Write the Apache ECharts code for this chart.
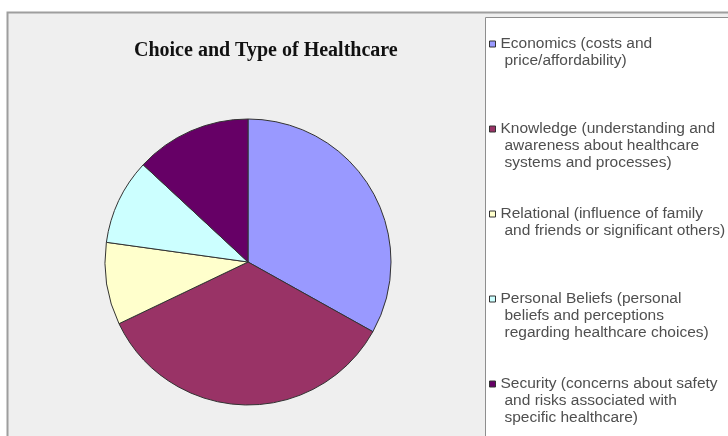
<!DOCTYPE html>
<html>
<head>
<meta charset="utf-8">
<script src="https://cdn.jsdelivr.net/npm/echarts@6/dist/echarts.min.js"></script>
<style>
  html, body { margin: 0; padding: 0; background: #ffffff; }
  #chart { width: 728px; height: 436px; }
</style>
</head>
<body>
<div id="chart"></div>
<script>
// Category labels, wrapped the way the legend prints them
const legendLines = [
  ['Economics (costs and', 'price/affordability)'],
  ['Knowledge (understanding and', 'awareness about healthcare', 'systems and processes)'],
  ['Relational (influence of family', 'and friends or significant others)'],
  ['Personal Beliefs (personal', 'beliefs and perceptions', 'regarding healthcare choices)'],
  ['Security (concerns about safety', 'and risks associated with', 'specific healthcare)']
];
const categories = legendLines.map(lines => lines.join(' '));

// Share of responses per category (percent)
const shares = [33.1, 34.8, 9.3, 9.7, 13.1];

const sliceColors = ['#9999FF', '#993366', '#FFFFCC', '#CCFFFF', '#660066'];
const titleText = 'Choice and Type of Healthcare';

const LINE_H = 17;
const FONT = '"Liberation Sans", Arial, sans-serif';
const TEXT_COLOR = '#4f4f4f';

// One legend block per category so each entry sits at its own fixed slot;
// the top padding keeps the marker level with the first text line.
const legends = categories.map((name, i) => {
  const lines = legendLines[i];
  const extra = (lines.length - 1) * LINE_H;
  return {
    data: [name],
    orient: 'vertical',
    left: 489,
    top: 42.5 + i * 85 - 7 - extra,
    padding: 0,
    icon: 'rect',
    itemWidth: 6,
    itemHeight: 6,
    itemStyle: { borderColor: '#333333', borderWidth: 1 },
    selectedMode: false,
    formatter: () => lines[0] + '\n' + lines.slice(1).map(s => '{c|' + s + '}').join('\n'),
    textStyle: {
      color: TEXT_COLOR,
      fontFamily: FONT,
      fontSize: 15.5,
      lineHeight: LINE_H,
      padding: [extra, 0, 0, 0],
      rich: {
        c: {
          color: TEXT_COLOR,
          fontFamily: FONT,
          fontSize: 15.5,
          lineHeight: LINE_H,
          padding: [0, 0, 0, 4]
        }
      }
    }
  };
});

const chart = echarts.init(document.getElementById('chart'), null, { renderer: 'canvas' });

chart.setOption({
  animation: false,
  backgroundColor: '#ffffff',
  title: {
    text: titleText,
    left: 134,
    top: 41,
    padding: 0,
    textStyle: {
      fontFamily: '"Liberation Serif", "Times New Roman", serif',
      fontWeight: 'bold',
      fontSize: 20,
      color: '#111111'
    }
  },
  graphic: [
    {
      type: 'rect',
      silent: true,
      z: 0,
      shape: { x: 7.5, y: 12.5, width: 740, height: 440 },
      style: { fill: '#EFEFEF', stroke: '#9E9E9E', lineWidth: 2 }
    },
    {
      type: 'rect',
      silent: true,
      z: 1,
      shape: { x: 485.5, y: 17.5, width: 260, height: 440 },
      style: { fill: '#FFFFFF', stroke: '#8E8E8E', lineWidth: 1 }
    }
  ],
  legend: legends,
  series: [
    {
      type: 'pie',
      center: [248, 262],
      radius: 143,
      startAngle: 90,
      clockwise: true,
      label: { show: false },
      labelLine: { show: false },
      emphasis: { disabled: true },
      itemStyle: { borderColor: '#333333', borderWidth: 1 },
      data: categories.map((name, i) => ({
        name: name,
        value: shares[i],
        itemStyle: { color: sliceColors[i] }
      }))
    }
  ]
});
</script>
</body>
</html>
